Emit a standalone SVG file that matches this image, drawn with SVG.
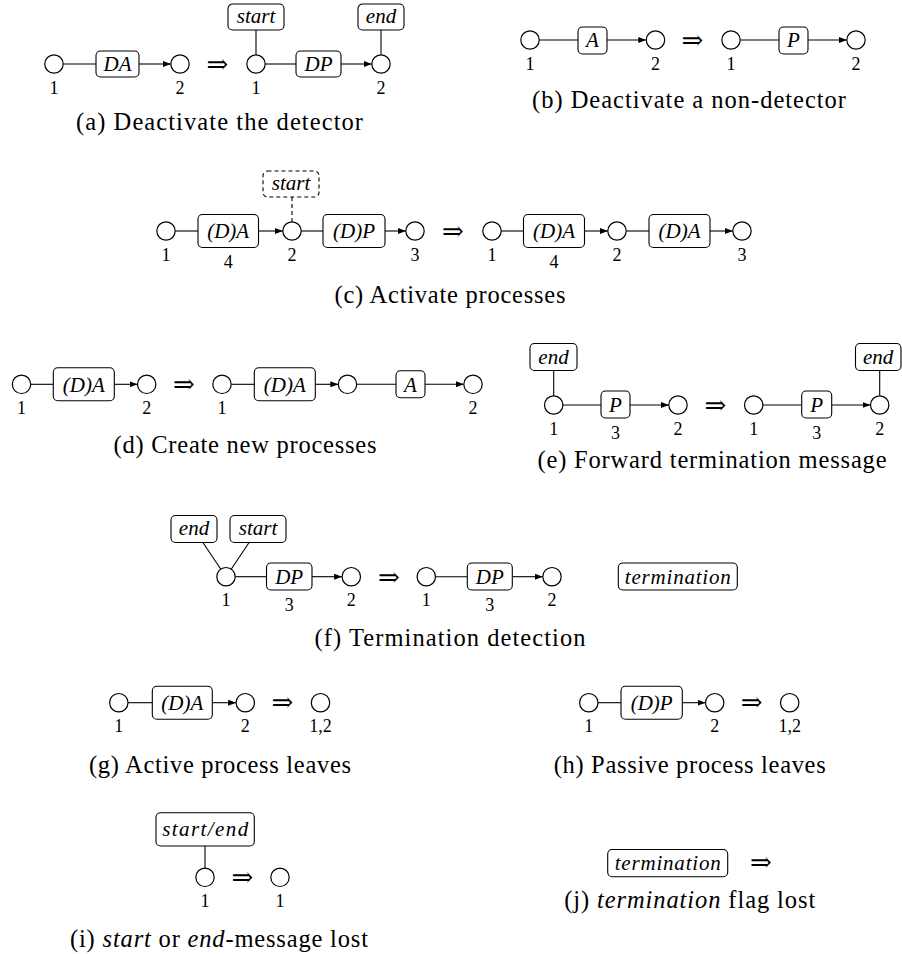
<svg xmlns="http://www.w3.org/2000/svg" width="902" height="954" viewBox="0 0 902 954" font-family="Liberation Serif, Tinos, Noto Serif, DejaVu Serif, FreeSerif, Nimbus Roman, Times New Roman, Times, serif">
<defs>
<style>
text{font-family:Liberation Serif, Tinos, Noto Serif, DejaVu Serif, FreeSerif, Nimbus Roman, Times New Roman, Times, serif;fill:#000}
.n{fill:#fff;stroke:#000;stroke-width:1.2}
.b{fill:#fff;stroke:#000;stroke-width:1.1}
.bd{fill:#fff;stroke:#000;stroke-width:1.1;stroke-dasharray:4 3}
.e{stroke:#000;stroke-width:1.1;fill:none}
.ed{stroke:#000;stroke-width:1.1;fill:none;stroke-dasharray:4 3}
.a{stroke:#000;stroke-width:1.1;fill:none;marker-end:url(#ah)}
.t{font-style:italic;font-size:21px;text-anchor:middle}
.l{font-size:18px;text-anchor:middle}
.c{font-size:24.5px;text-anchor:middle}
.r{font-family:DejaVu Serif, DejaVu Sans, serif;font-size:26px;text-anchor:middle}
.i{font-style:italic}
</style>
<marker id="ah" viewBox="0 0 8 6" refX="8" refY="3" markerWidth="8" markerHeight="6" markerUnits="userSpaceOnUse" orient="auto"><path d="M0,0 L8,3 L0,6 z" fill="#000"/></marker>
</defs>
<rect width="902" height="954" fill="#fff"/>

<!-- (a) -->
<g id="panel-a">
<g id="a-edges">
<line class="e" x1="63.2" y1="64" x2="96" y2="64"/>
<line class="a" x1="139" y1="64" x2="170.8" y2="64"/>
<line class="e" x1="256" y1="30" x2="256" y2="54.8"/>
<line class="e" x1="265.2" y1="64" x2="296" y2="64"/>
<line class="a" x1="341" y1="64" x2="371.8" y2="64"/>
<line class="e" x1="381" y1="30" x2="381" y2="54.8"/>
</g>
<g id="a-n1"><circle class="n" cx="54" cy="64" r="9.2"/><text class="l" x="54" y="93.7">1</text></g>
<g id="a-da"><rect class="b" x="96" y="51" width="43" height="26" rx="4.5"/><text class="t" x="117.5" y="71.3">DA</text></g>
<g id="a-n2"><circle class="n" cx="180" cy="64" r="9.2"/><text class="l" x="180" y="93.7">2</text></g>
<text class="r" x="217.5" y="72.5">⇒</text>
<g id="a-start"><rect class="b" x="228" y="4" width="56" height="26" rx="4.5"/><text class="t" x="256" y="23.3">start</text></g>
<g id="a-n1b"><circle class="n" cx="256" cy="64" r="9.2"/><text class="l" x="256" y="93.7">1</text></g>
<g id="a-dp"><rect class="b" x="296" y="51" width="45" height="26" rx="4.5"/><text class="t" x="318.5" y="71.3">DP</text></g>
<g id="a-end"><rect class="b" x="358" y="4" width="46" height="26" rx="4.5"/><text class="t" x="381" y="23.3">end</text></g>
<g id="a-n2b"><circle class="n" cx="381" cy="64" r="9.2"/><text class="l" x="381" y="93.7">2</text></g>
<text class="c" x="219.5" y="129.5" textLength="287" lengthAdjust="spacing">(a) Deactivate the detector</text>
</g>

<!-- (b) -->
<g id="panel-b">
<g id="b-edges">
<line class="e" x1="539.2" y1="40" x2="578" y2="40"/>
<line class="a" x1="607" y1="40" x2="646.3" y2="40"/>
<line class="e" x1="740.2" y1="40" x2="779" y2="40"/>
<line class="a" x1="808" y1="40" x2="846.8" y2="40"/>
</g>
<g id="b-n1"><circle class="n" cx="530" cy="40" r="9.2"/><text class="l" x="530" y="70">1</text></g>
<g id="b-a"><rect class="b" x="578" y="27" width="29" height="27" rx="4.5"/><text class="t" x="592.5" y="47.3">A</text></g>
<g id="b-n2"><circle class="n" cx="655.5" cy="40" r="9.2"/><text class="l" x="655.5" y="70">2</text></g>
<text class="r" x="692.5" y="48.5">⇒</text>
<g id="b-n1b"><circle class="n" cx="731" cy="40" r="9.2"/><text class="l" x="731" y="70">1</text></g>
<g id="b-p"><rect class="b" x="779" y="27" width="29" height="27" rx="4.5"/><text class="t" x="793.5" y="47.3">P</text></g>
<g id="b-n2b"><circle class="n" cx="856" cy="40" r="9.2"/><text class="l" x="856" y="70">2</text></g>
<text class="c" x="689" y="108" textLength="314" lengthAdjust="spacing">(b) Deactivate a non-detector</text>
</g>

<!-- (c) -->
<g id="panel-c">
<g id="c-edges">
<line class="e" x1="175.2" y1="231" x2="198" y2="231"/>
<line class="a" x1="258.5" y1="231" x2="282.8" y2="231"/>
<line class="ed" x1="292" y1="197" x2="292" y2="221.8"/>
<line class="e" x1="301.2" y1="231" x2="323" y2="231"/>
<line class="a" x1="385" y1="231" x2="405.8" y2="231"/>
<line class="e" x1="501.2" y1="231" x2="523.5" y2="231"/>
<line class="a" x1="584.5" y1="231" x2="607.8" y2="231"/>
<line class="e" x1="626.2" y1="231" x2="649" y2="231"/>
<line class="a" x1="710" y1="231" x2="732.8" y2="231"/>
</g>
<g id="c-n1"><circle class="n" cx="166" cy="231" r="9.2"/><text class="l" x="166" y="260.7">1</text></g>
<g id="c-da"><rect class="b" x="198" y="214.5" width="60.5" height="33" rx="4.5"/><text class="t" x="228.2" y="238.3">(D)A</text><text class="l" x="228.2" y="268">4</text></g>
<g id="c-start"><rect class="bd" x="263" y="171" width="56" height="26" rx="4.5"/><text class="t" x="291" y="190.3">start</text></g>
<g id="c-n2"><circle class="n" cx="292" cy="231" r="9.2"/><text class="l" x="292" y="260.7">2</text></g>
<g id="c-dp"><rect class="b" x="323" y="214.5" width="62" height="33" rx="4.5"/><text class="t" x="354" y="238.3">(D)P</text></g>
<g id="c-n3"><circle class="n" cx="415" cy="231" r="9.2"/><text class="l" x="415" y="260.7">3</text></g>
<text class="r" x="453" y="239.5">⇒</text>
<g id="c-n1b"><circle class="n" cx="492" cy="231" r="9.2"/><text class="l" x="492" y="260.7">1</text></g>
<g id="c-da2"><rect class="b" x="523.5" y="214.5" width="61" height="33" rx="4.5"/><text class="t" x="554" y="238.3">(D)A</text><text class="l" x="554" y="268">4</text></g>
<g id="c-n2b"><circle class="n" cx="617" cy="231" r="9.2"/><text class="l" x="617" y="260.7">2</text></g>
<g id="c-da3"><rect class="b" x="649" y="214.5" width="61" height="33" rx="4.5"/><text class="t" x="679.5" y="238.3">(D)A</text></g>
<g id="c-n3b"><circle class="n" cx="742" cy="231" r="9.2"/><text class="l" x="742" y="260.7">3</text></g>
<text class="c" x="450" y="303" textLength="231" lengthAdjust="spacing">(c) Activate processes</text>
</g>

<!-- (d) -->
<g id="panel-d">
<g id="d-edges">
<line class="e" x1="30.7" y1="384.3" x2="53.3" y2="384.3"/>
<line class="a" x1="114.3" y1="384.3" x2="137.5" y2="384.3"/>
<line class="e" x1="231.2" y1="384.3" x2="254.3" y2="384.3"/>
<line class="a" x1="315.3" y1="384.3" x2="338.3" y2="384.3"/>
<line class="e" x1="356.7" y1="384.3" x2="396" y2="384.3"/>
<line class="a" x1="425" y1="384.3" x2="463.8" y2="384.3"/>
</g>
<g id="d-n1"><circle class="n" cx="21.5" cy="384.3" r="9.2"/><text class="l" x="21.5" y="414">1</text></g>
<g id="d-da"><rect class="b" x="53.3" y="367.8" width="61" height="33" rx="4.5"/><text class="t" x="83.8" y="391.6">(D)A</text></g>
<g id="d-n2"><circle class="n" cx="146.7" cy="384.3" r="9.2"/><text class="l" x="146.7" y="414">2</text></g>
<text class="r" x="184" y="392.8">⇒</text>
<g id="d-n1b"><circle class="n" cx="222" cy="384.3" r="9.2"/><text class="l" x="222" y="414">1</text></g>
<g id="d-da2"><rect class="b" x="254.3" y="367.8" width="61" height="33" rx="4.5"/><text class="t" x="284.8" y="391.6">(D)A</text></g>
<g id="d-n3"><circle class="n" cx="347.5" cy="384.3" r="9.2"/></g>
<g id="d-a"><rect class="b" x="396" y="370.8" width="29" height="27" rx="4.5"/><text class="t" x="410.5" y="391.6">A</text></g>
<g id="d-n2b"><circle class="n" cx="473" cy="384.3" r="9.2"/><text class="l" x="473" y="414">2</text></g>
<text class="c" x="245" y="452.7" textLength="263" lengthAdjust="spacing">(d) Create new processes</text>
</g>

<!-- (e) -->
<g id="panel-e">
<g id="e-edges">
<line class="e" x1="553.7" y1="370.5" x2="553.7" y2="395.8"/>
<line class="e" x1="562.9" y1="405" x2="601" y2="405"/>
<line class="a" x1="630" y1="405" x2="668.8" y2="405"/>
<line class="e" x1="762.9" y1="405" x2="801.7" y2="405"/>
<line class="a" x1="831.7" y1="405" x2="870.5" y2="405"/>
<line class="e" x1="879.7" y1="370.5" x2="879.7" y2="395.8"/>
</g>
<g id="e-end"><rect class="b" x="530" y="343.5" width="47" height="27" rx="4.5"/><text class="t" x="553.5" y="363.5">end</text></g>
<g id="e-n1"><circle class="n" cx="553.7" cy="405" r="9.2"/><text class="l" x="553.7" y="434.5">1</text></g>
<g id="e-p"><rect class="b" x="601" y="391" width="29" height="27" rx="4.5"/><text class="t" x="615.5" y="412.3">P</text><text class="l" x="615.5" y="438.5">3</text></g>
<g id="e-n2"><circle class="n" cx="678" cy="405" r="9.2"/><text class="l" x="678" y="434.5">2</text></g>
<text class="r" x="715.5" y="413.5">⇒</text>
<g id="e-n1b"><circle class="n" cx="753.7" cy="405" r="9.2"/><text class="l" x="753.7" y="434.5">1</text></g>
<g id="e-p2"><rect class="b" x="801.7" y="391" width="30" height="27" rx="4.5"/><text class="t" x="816.7" y="412.3">P</text><text class="l" x="816.7" y="438.5">3</text></g>
<g id="e-n2b"><circle class="n" cx="879.7" cy="405" r="9.2"/><text class="l" x="879.7" y="434.5">2</text></g>
<g id="e-end2"><rect class="b" x="855.5" y="343.5" width="45.5" height="27" rx="4.5"/><text class="t" x="878.2" y="363.5">end</text></g>
<text class="c" x="712" y="468" textLength="349" lengthAdjust="spacing">(e) Forward termination message</text>
</g>

<!-- (f) -->
<g id="panel-f">
<g id="f-edges">
<line class="e" x1="202.9" y1="542.5" x2="221" y2="569.5"/>
<line class="e" x1="249.1" y1="542.5" x2="231" y2="569.5"/>
<line class="e" x1="235.2" y1="576.7" x2="266.5" y2="576.7"/>
<line class="a" x1="312" y1="576.7" x2="342.1" y2="576.7"/>
<line class="e" x1="435.5" y1="576.7" x2="467.3" y2="576.7"/>
<line class="a" x1="512.3" y1="576.7" x2="542.8" y2="576.7"/>
</g>
<g id="f-end"><rect class="b" x="171" y="515.5" width="46" height="27" rx="4.5"/><text class="t" x="194" y="535.3">end</text></g>
<g id="f-start"><rect class="b" x="230" y="515.5" width="56" height="27" rx="4.5"/><text class="t" x="258" y="535.3">start</text></g>
<g id="f-n1"><circle class="n" cx="226" cy="576.7" r="9.2"/><text class="l" x="226" y="606.4">1</text></g>
<g id="f-dp"><rect class="b" x="266.5" y="563" width="45.5" height="27" rx="4.5"/><text class="t" x="289.2" y="584">DP</text><text class="l" x="289.2" y="610.5">3</text></g>
<g id="f-n2"><circle class="n" cx="351.3" cy="576.7" r="9.2"/><text class="l" x="351.3" y="606.4">2</text></g>
<text class="r" x="389" y="585.5">⇒</text>
<g id="f-n1b"><circle class="n" cx="426.3" cy="576.7" r="9.2"/><text class="l" x="426.3" y="606.4">1</text></g>
<g id="f-dp2"><rect class="b" x="467.3" y="563" width="45" height="27" rx="4.5"/><text class="t" x="489.8" y="584">DP</text><text class="l" x="489.8" y="610.5">3</text></g>
<g id="f-n2b"><circle class="n" cx="552" cy="576.7" r="9.2"/><text class="l" x="552" y="606.4">2</text></g>
<g id="f-term"><rect class="b" x="618.3" y="563" width="119" height="27" rx="4.5"/><text class="t" x="677.8" y="583.5" textLength="106" lengthAdjust="spacing">termination</text></g>
<text class="c" x="450" y="646" textLength="271" lengthAdjust="spacing">(f) Termination detection</text>
</g>

<!-- (g) -->
<g id="panel-g">
<g id="g-edges">
<line class="e" x1="128" y1="702.7" x2="152.3" y2="702.7"/>
<line class="a" x1="212.3" y1="702.7" x2="236.1" y2="702.7"/>
</g>
<g id="g-n1"><circle class="n" cx="118.8" cy="702.7" r="9.2"/><text class="l" x="118.8" y="732.3">1</text></g>
<g id="g-da"><rect class="b" x="152.3" y="686.2" width="60" height="33" rx="4.5"/><text class="t" x="182.3" y="710">(D)A</text></g>
<g id="g-n2"><circle class="n" cx="245.3" cy="702.7" r="9.2"/><text class="l" x="245.3" y="732.3">2</text></g>
<text class="r" x="282.5" y="711.2">⇒</text>
<g id="g-n12"><circle class="n" cx="320.5" cy="702.7" r="9.2"/><text class="l" x="320.5" y="732.3">1,2</text></g>
<text class="c" x="220" y="773" textLength="262" lengthAdjust="spacing">(g) Active process leaves</text>
</g>

<!-- (h) -->
<g id="panel-h">
<g id="h-edges">
<line class="e" x1="598" y1="702.7" x2="621" y2="702.7"/>
<line class="a" x1="682.3" y1="702.7" x2="705.5" y2="702.7"/>
</g>
<g id="h-n1"><circle class="n" cx="588.8" cy="702.7" r="9.2"/><text class="l" x="588.8" y="732.3">1</text></g>
<g id="h-dp"><rect class="b" x="621" y="686.2" width="61.3" height="33" rx="4.5"/><text class="t" x="651.7" y="710">(D)P</text></g>
<g id="h-n2"><circle class="n" cx="714.7" cy="702.7" r="9.2"/><text class="l" x="714.7" y="732.3">2</text></g>
<text class="r" x="751.7" y="711.2">⇒</text>
<g id="h-n12"><circle class="n" cx="789.7" cy="702.7" r="9.2"/><text class="l" x="789.7" y="732.3">1,2</text></g>
<text class="c" x="689.7" y="773" textLength="272" lengthAdjust="spacing">(h) Passive process leaves</text>
</g>

<!-- (i) -->
<g id="panel-i">
<g id="i-edges">
<line class="e" x1="205" y1="846" x2="205" y2="868.1"/>
</g>
<g id="i-msg"><rect class="b" x="156" y="812.7" width="98.3" height="33.3" rx="4.5"/><text class="t" x="205.2" y="836" textLength="86" lengthAdjust="spacing">start/end</text></g>
<g id="i-n1"><circle class="n" cx="205" cy="877.3" r="9.2"/><text class="l" x="205" y="906.7">1</text></g>
<text class="r" x="242.5" y="885.8">⇒</text>
<g id="i-n1b"><circle class="n" cx="280" cy="877.3" r="9.2"/><text class="l" x="280" y="906.7">1</text></g>
<text class="c" x="219" y="946.7" textLength="298" lengthAdjust="spacing">(i) <tspan class="i">start</tspan> or <tspan class="i">end</tspan>-message lost</text>
</g>

<!-- (j) -->
<g id="panel-j">
<g id="j-term"><rect class="b" x="607.7" y="849.5" width="120" height="27.3" rx="4.5"/><text class="t" x="667.7" y="870" textLength="106" lengthAdjust="spacing">termination</text></g>
<text class="r" x="761" y="871">⇒</text>
<text class="c" x="689.7" y="908.3" textLength="251" lengthAdjust="spacing">(j) <tspan class="i">termination</tspan> flag lost</text>
</g>
</svg>
